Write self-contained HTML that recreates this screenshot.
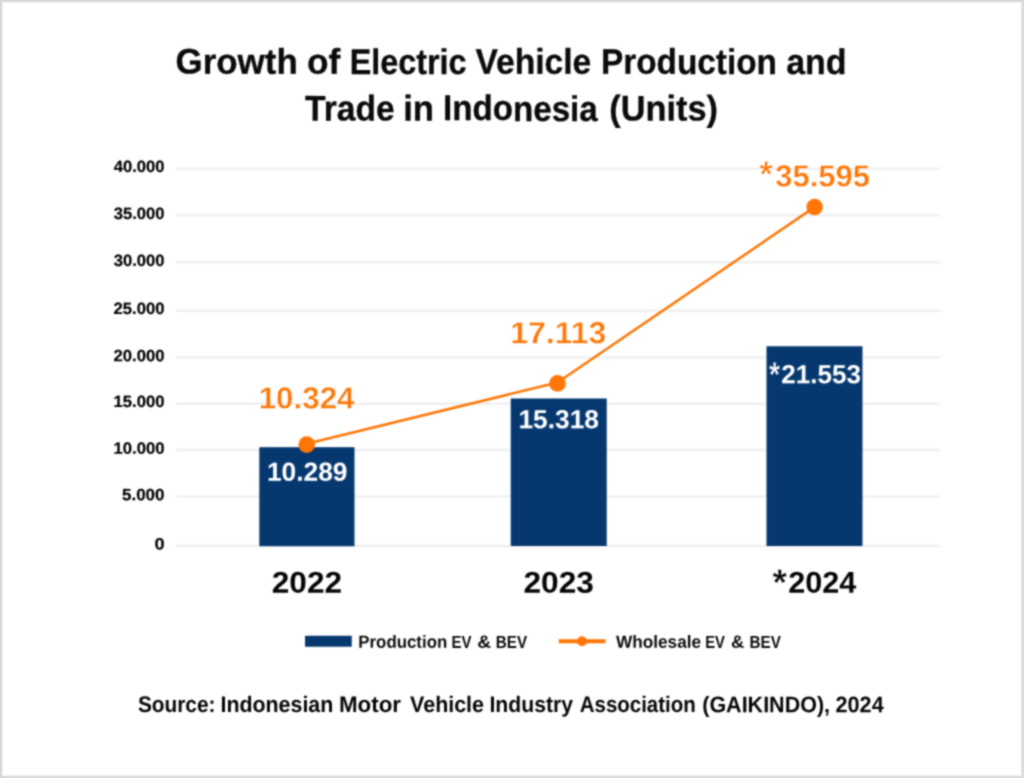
<!DOCTYPE html>
<html lang="en">
<head>
<meta charset="utf-8">
<title>Growth of Electric Vehicle Production and Trade in Indonesia (Units)</title>
<style>
  html, body { margin:0; padding:0; background:#ffffff; }
  body { width:1024px; height:778px; overflow:hidden; position:relative; }
  svg { position:absolute; left:-20px; top:-20px; display:block; }
  text { font-family:"Liberation Sans", sans-serif; font-weight:bold; text-rendering:geometricPrecision; }
  .ttl { font-size:35.6px; fill:#0a0a0a; stroke:#0a0a0a; stroke-width:0.3px; }
  .ax  { font-size:16.4px; fill:#000; stroke:#000; stroke-width:0.2px; }
  .cat { font-size:30.2px; fill:#050505; }
  .or  { font-size:30.7px; fill:#fe7605; stroke:#fff; stroke-width:0.45px; }
  .wh  { font-size:26.2px; fill:#ffffff; }
  .lg  { font-size:17.6px; fill:#0a0a0a; }
  .src { font-size:22.6px; fill:#050505; }
  .ao  { font-size:37.5px; fill:#fe7605; stroke:#fff; stroke-width:0.8px; }
  .aw  { font-size:34px; fill:#ffffff; stroke:#06386f; stroke-width:0.4px; }
  .ac  { font-size:37px; fill:#050505; stroke:#fff; stroke-width:0.5px; }
</style>
</head>
<body>
<svg id="chart" width="1064" height="818" viewBox="-20 -20 1064 818">
  <defs>
    <filter id="soft" filterUnits="userSpaceOnUse" x="-20" y="-20" width="1064" height="818" color-interpolation-filters="sRGB">
      <feConvolveMatrix order="5" kernelMatrix="0.00023 0.00332 0.00809 0.00332 0.00023 0.00332 0.04785 0.11640 0.04785 0.00332 0.00809 0.11640 0.28313 0.11640 0.00809 0.00332 0.04785 0.11640 0.04785 0.00332 0.00023 0.00332 0.00809 0.00332 0.00023" divisor="1" edgeMode="duplicate" preserveAlpha="true"/>
    </filter>
  </defs>
  <g filter="url(#soft)">
  <rect x="-20" y="-20" width="1064" height="818" fill="#ffffff"/>
  <!-- outer frame -->
  <g id="frame" fill="#d6d6d6">
    <rect x="-20" y="-20" width="1064" height="22.2"/>
    <rect x="-20" y="775.7" width="1064" height="22.5" fill="#dadada"/>
    <rect x="-20" y="-20" width="22.2" height="818"/>
    <rect x="1021.2" y="-20" width="22.8" height="818" fill="#dcdcdc"/>
  </g>

  <!-- title -->
  <text class="ttl" transform="rotate(0.03 511.1 73.8)" y="73.8"><tspan x="175.56" textLength="122.19" lengthAdjust="spacingAndGlyphs">Growth</tspan> <tspan x="306.96" textLength="33.28" lengthAdjust="spacingAndGlyphs">of</tspan> <tspan x="349.7" textLength="116.82" lengthAdjust="spacingAndGlyphs">Electric</tspan> <tspan x="475.5" textLength="115.76" lengthAdjust="spacingAndGlyphs">Vehicle</tspan> <tspan x="600.95" textLength="175.99" lengthAdjust="spacingAndGlyphs">Production</tspan> <tspan x="786.21" textLength="60.39" lengthAdjust="spacingAndGlyphs">and</tspan></text>
  <text class="ttl" transform="rotate(0.03 511.5 120.5)" y="120.5"><tspan x="305.0" textLength="89.67" lengthAdjust="spacingAndGlyphs">Trade</tspan> <tspan x="403.17" textLength="30.87" lengthAdjust="spacingAndGlyphs">in</tspan> <tspan x="442.98" textLength="154.77" lengthAdjust="spacingAndGlyphs">Indonesia</tspan> <tspan x="609.3" textLength="108.74" lengthAdjust="spacingAndGlyphs">(Units)</tspan></text>

  <!-- gridlines -->
  <g id="grid" stroke="#f0f0f0" stroke-width="2.6">
    <line x1="176" x2="940" y1="168.8" y2="168.8"/>
    <line x1="176" x2="940" y1="215.3" y2="215.3"/>
    <line x1="176" x2="940" y1="262.2" y2="262.2"/>
    <line x1="176" x2="940" y1="310.7" y2="310.7"/>
    <line x1="176" x2="940" y1="357.5" y2="357.5"/>
    <line x1="176" x2="940" y1="403.7" y2="403.7"/>
    <line x1="176" x2="940" y1="450.1" y2="450.1"/>
    <line x1="176" x2="940" y1="496.5" y2="496.5"/>
    <line x1="176" x2="940" y1="546.0" y2="546.0"/>
  </g>

  <!-- y axis labels -->
  <text class="ax" transform="rotate(0.03 139.1 172)" x="113.75" y="172" textLength="50.76" lengthAdjust="spacingAndGlyphs">40.000</text>
  <text class="ax" transform="rotate(0.03 139.1 219)" x="113.75" y="219" textLength="50.76" lengthAdjust="spacingAndGlyphs">35.000</text>
  <text class="ax" transform="rotate(0.03 139.1 266)" x="113.75" y="266" textLength="50.76" lengthAdjust="spacingAndGlyphs">30.000</text>
  <text class="ax" transform="rotate(0.03 139.0 314)" x="113.49" y="314" textLength="51.02" lengthAdjust="spacingAndGlyphs">25.000</text>
  <text class="ax" transform="rotate(0.03 139.0 361.25)" x="113.49" y="361.25" textLength="51.02" lengthAdjust="spacingAndGlyphs">20.000</text>
  <text class="ax" transform="rotate(0.03 139.0 407)" x="113.47" y="407" textLength="51.05" lengthAdjust="spacingAndGlyphs">15.000</text>
  <text class="ax" transform="rotate(0.03 139.0 453.75)" x="113.47" y="453.75" textLength="51.05" lengthAdjust="spacingAndGlyphs">10.000</text>
  <text class="ax" transform="rotate(0.03 143.2 500.25)" x="121.99" y="500.25" textLength="42.52" lengthAdjust="spacingAndGlyphs">5.000</text>
  <text class="ax" transform="rotate(0.03 159.5 549.4)" x="154.44" y="549.4" textLength="10.12" lengthAdjust="spacingAndGlyphs">0</text>

  <!-- bars -->
  <g id="bars" fill="#06386f">
    <rect x="259.3" y="447.2" width="95.2" height="99"/>
    <rect x="510.75" y="398.5" width="96" height="147.5"/>
    <rect x="766.5" y="346.25" width="96" height="199.75"/>
  </g>

  <!-- line series -->
  <g id="line">
    <polyline points="306.7,443.7 557.5,382.5 814.6,207.1" fill="none" stroke="#fe7605" stroke-width="2.5" stroke-linejoin="round"/>
    <circle cx="306.7" cy="444.6" r="8.3" fill="#fe7605"/>
    <circle cx="557.5" cy="383.4" r="8.3" fill="#fe7605"/>
    <circle cx="814.6" cy="207.1" r="8.25" fill="#fe7605"/>
  </g>

  <!-- data labels: wholesale -->
  <text class="or" transform="rotate(0.03 306.6 408.5)" x="258.68" y="408.5" textLength="95.83" lengthAdjust="spacingAndGlyphs">10.324</text>
  <text class="or" transform="rotate(0.03 558.2 343.25)" x="510.16" y="343.25" textLength="96.14" lengthAdjust="spacingAndGlyphs">17.113</text>
  <text class="or" transform="rotate(0.03 814.6 186.45)" y="186.45"><tspan class="ao" y="187.15" x="759.21" textLength="13.59" lengthAdjust="spacingAndGlyphs">*</tspan><tspan y="186.45" x="775.33" textLength="94.7" lengthAdjust="spacingAndGlyphs">35.595</tspan></text>
  <!-- data labels: production -->
  <text class="wh" transform="rotate(0.03 307.2 480.7)" x="266.95" y="480.7" textLength="80.58" lengthAdjust="spacingAndGlyphs">10.289</text>
  <text class="wh" transform="rotate(0.03 558.7 428.2)" x="518.46" y="428.2" textLength="80.57" lengthAdjust="spacingAndGlyphs">15.318</text>
  <text class="wh" transform="rotate(0.03 815.0 383.3)" y="383.3"><tspan class="aw" y="385.75" x="768.99" textLength="11.02" lengthAdjust="spacingAndGlyphs">*</tspan><tspan y="383.3" x="781.23" textLength="79.69" lengthAdjust="spacingAndGlyphs">21.553</tspan></text>

  <!-- category labels -->
  <text class="cat" transform="rotate(0.03 306.9 592.8)" x="271.72" y="592.8" textLength="70.33" lengthAdjust="spacingAndGlyphs">2022</text>
  <text class="cat" transform="rotate(0.03 558.6 592.8)" x="523.47" y="592.8" textLength="70.32" lengthAdjust="spacingAndGlyphs">2023</text>
  <text class="cat" transform="rotate(0.03 814.4 592.8)" y="592.8"><tspan class="ac" y="594.95" x="772.46" textLength="14.42" lengthAdjust="spacingAndGlyphs">*</tspan><tspan y="592.8" x="788.23" textLength="68.02" lengthAdjust="spacingAndGlyphs">2024</tspan></text>

  <!-- legend -->
  <rect x="305" y="635.75" width="46.75" height="11" fill="#06386f"/>
  <text class="lg" transform="rotate(0.03 442.7 647.8)" y="647.8"><tspan x="358.32" textLength="88.95" lengthAdjust="spacingAndGlyphs">Production</tspan> <tspan x="451.59" textLength="20.02" lengthAdjust="spacingAndGlyphs">EV</tspan> <tspan x="477.3" textLength="13.93" lengthAdjust="spacingAndGlyphs">&amp;</tspan> <tspan x="495.81" textLength="31.3" lengthAdjust="spacingAndGlyphs">BEV</tspan></text>
  <line x1="558.75" x2="605.5" y1="641.25" y2="641.25" stroke="#fe7605" stroke-width="4"/>
  <circle cx="582" cy="641.25" r="5" fill="#fe7605"/>
  <text class="lg" transform="rotate(0.03 698.5 647.8)" y="647.8"><tspan x="616.0" textLength="85.11" lengthAdjust="spacingAndGlyphs">Wholesale</tspan> <tspan x="705.18" textLength="19.79" lengthAdjust="spacingAndGlyphs">EV</tspan> <tspan x="731.02" textLength="13.29" lengthAdjust="spacingAndGlyphs">&amp;</tspan> <tspan x="749.61" textLength="31.3" lengthAdjust="spacingAndGlyphs">BEV</tspan></text>

  <!-- source -->
  <text class="src" transform="rotate(0.03 510.9 712.1)" y="712.1"><tspan x="137.97" textLength="77.49" lengthAdjust="spacingAndGlyphs">Source:</tspan> <tspan x="220.46" textLength="112.82" lengthAdjust="spacingAndGlyphs">Indonesian</tspan> <tspan x="338.96" textLength="62.05" lengthAdjust="spacingAndGlyphs">Motor</tspan> <tspan x="410.1" textLength="73.91" lengthAdjust="spacingAndGlyphs">Vehicle</tspan> <tspan x="489.47" textLength="83.54" lengthAdjust="spacingAndGlyphs">Industry</tspan> <tspan x="579.74" textLength="116.03" lengthAdjust="spacingAndGlyphs">Association</tspan> <tspan x="702.23" textLength="127.8" lengthAdjust="spacingAndGlyphs">(GAIKINDO),</tspan> <tspan x="835.49" textLength="48.26" lengthAdjust="spacingAndGlyphs">2024</tspan></text>
  </g>
</svg>
</body>
</html>
